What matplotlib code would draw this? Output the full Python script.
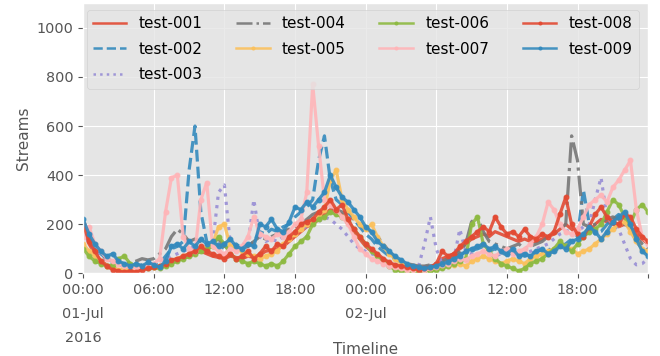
import matplotlib
matplotlib.use('Agg')
import matplotlib.pyplot as plt
import pandas as pd
plt.style.use('ggplot')

# half-hourly readings, 01-Jul-2016 00:00 .. 03-Jul-2016 00:00
test_001 = [190, 120, 80, 50, 35, 20, 15, 10, 10, 10, 15, 20, 20, 25, 35, 45, 55, 60, 70, 80, 90, 80, 70, 65,
            60, 70, 65, 60, 70, 65, 75, 90, 95, 100, 110, 130, 150, 170, 190, 200, 220, 240, 260, 250, 240, 200, 170, 140,
            110, 90, 70, 55, 40, 30, 25, 20, 15, 15, 20, 25, 35, 60, 70, 80, 100, 120, 140, 150, 160, 150, 170, 160,
            150, 140, 130, 140, 130, 130, 140, 150, 160, 180, 200, 180, 160, 150, 170, 200, 220, 210, 200, 190, 200, 190, 160, 140,
            120]
test_002 = [200, 140, 100, 80, 60, 50, 40, 35, 30, 30, 35, 40, 30, 40, 70, 100, 110, 130, 420, 600, 250, 130, 110, 120,
            100, 110, 120, 100, 110, 130, 170, 160, 180, 170, 190, 200, 230, 250, 270, 300, 460, 560, 380, 300, 280, 250, 220, 190,
            160, 140, 110, 90, 70, 60, 45, 35, 30, 25, 25, 30, 35, 45, 55, 60, 80, 85, 95, 100, 110, 90, 100, 85,
            75, 90, 80, 70, 80, 90, 95, 100, 85, 110, 120, 140, 150, 340, 200, 160, 170, 200, 220, 240, 210, 180, 130, 100,
            80]
test_003 = [170, 130, 90, 70, 50, 45, 35, 30, 25, 30, 30, 35, 40, 50, 60, 70, 80, 90, 100, 110, 100, 110, 120, 330,
            360, 120, 110, 100, 120, 300, 150, 130, 140, 130, 150, 160, 170, 180, 190, 200, 210, 230, 220, 200, 180, 150, 120, 100,
            90, 80, 70, 55, 45, 35, 30, 25, 20, 30, 120, 230, 100, 40, 50, 60, 180, 90, 80, 60, 90, 80, 70, 80,
            90, 80, 75, 85, 90, 100, 110, 120, 140, 160, 170, 180, 170, 190, 200, 300, 390, 230, 200, 180, 120, 60, 35, 40,
            60]
test_004 = [180, 150, 110, 80, 60, 50, 40, 40, 45, 50, 60, 55, 60, 80, 100, 150, 180, 160, 130, 140, 130, 120, 130, 140,
            110, 100, 110, 120, 110, 130, 150, 140, 150, 160, 170, 180, 190, 200, 220, 240, 250, 270, 280, 260, 250, 240, 220, 200,
            180, 170, 150, 120, 90, 60, 50, 40, 35, 30, 30, 35, 40, 50, 60, 70, 90, 120, 210, 230, 170, 130, 120, 110,
            100, 110, 120, 100, 110, 120, 130, 150, 160, 180, 200, 560, 460, 200, 190, 200, 210, 220, 230, 220, 200, 180, 150, 120,
            100]
test_005 = [120, 90, 70, 50, 30, 20, 15, 20, 15, 20, 25, 30, 25, 30, 40, 50, 60, 70, 80, 90, 100, 110, 120, 190,
            200, 110, 100, 90, 80, 70, 60, 70, 80, 90, 120, 140, 160, 180, 200, 210, 230, 260, 380, 420, 300, 260, 230, 200,
            180, 200, 150, 110, 80, 60, 40, 30, 20, 15, 10, 15, 20, 25, 30, 35, 40, 30, 50, 60, 70, 60, 50, 40,
            50, 60, 50, 40, 60, 70, 80, 90, 100, 120, 110, 100, 80, 90, 100, 120, 140, 160, 180, 200, 210, 170, 130, 100,
            90]
test_006 = [100, 70, 50, 40, 30, 35, 60, 70, 40, 30, 25, 20, 25, 20, 30, 40, 50, 60, 70, 80, 90, 100, 110, 150,
            120, 80, 60, 50, 40, 50, 40, 30, 40, 30, 50, 80, 110, 130, 150, 200, 220, 230, 250, 240, 230, 210, 180, 150,
            120, 90, 70, 50, 30, 15, 10, 10, 5, 10, 15, 10, 15, 20, 30, 40, 50, 60, 200, 230, 120, 90, 60, 40,
            30, 20, 10, 20, 40, 50, 60, 80, 100, 130, 110, 90, 120, 150, 170, 180, 200, 250, 300, 280, 230, 200, 260, 280,
            250]
test_007 = [150, 190, 120, 90, 60, 50, 40, 30, 25, 20, 25, 30, 40, 60, 250, 390, 400, 150, 100, 90, 300, 370, 110, 90,
            80, 100, 90, 110, 150, 230, 160, 150, 140, 160, 150, 170, 200, 220, 330, 770, 520, 300, 280, 260, 230, 200, 150, 100,
            80, 60, 50, 40, 30, 25, 20, 15, 15, 20, 15, 20, 25, 35, 40, 50, 60, 55, 70, 80, 90, 80, 70, 90,
            100, 80, 90, 100, 120, 150, 200, 290, 260, 200, 170, 160, 180, 230, 280, 300, 320, 290, 350, 380, 420, 460, 260, 150,
            120]
test_008 = [200, 130, 90, 50, 30, 15, 10, 5, 10, 5, 15, 20, 25, 30, 40, 55, 60, 70, 80, 90, 110, 90, 80, 70,
            60, 80, 60, 70, 90, 60, 80, 110, 90, 120, 110, 150, 170, 200, 210, 220, 250, 270, 300, 260, 280, 220, 180, 150,
            120, 100, 80, 60, 45, 35, 30, 25, 20, 15, 20, 25, 40, 90, 70, 80, 110, 130, 150, 170, 190, 170, 230, 190,
            160, 170, 150, 180, 150, 140, 160, 150, 170, 240, 310, 200, 160, 150, 190, 240, 270, 230, 210, 200, 240, 230, 180, 150,
            130]
test_009 = [220, 160, 120, 90, 70, 80, 50, 40, 30, 40, 30, 45, 35, 25, 50, 110, 120, 100, 130, 110, 140, 120, 130, 110,
            120, 140, 110, 100, 120, 110, 200, 190, 220, 180, 170, 210, 270, 260, 290, 270, 300, 330, 400, 350, 310, 290, 260, 230,
            190, 170, 130, 110, 90, 70, 55, 40, 30, 25, 20, 25, 30, 40, 45, 60, 70, 90, 100, 110, 120, 100, 110, 90,
            80, 100, 70, 80, 70, 90, 100, 80, 90, 110, 100, 130, 140, 160, 190, 170, 140, 170, 210, 230, 250, 200, 140, 90,
            70]

series_names = ['test-001', 'test-002', 'test-003', 'test-004', 'test-005',
                'test-006', 'test-007', 'test-008', 'test-009']
tick_labels = ['00:00\n01-Jul\n2016', '06:00', '12:00', '18:00',
               '00:00\n02-Jul', '06:00', '12:00', '18:00', '']


def main():
    times = pd.date_range('2016-07-01 00:00', periods=len(test_001), freq='30min')
    all_series = [test_001, test_002, test_003, test_004, test_005,
                  test_006, test_007, test_008, test_009]
    styles = ['-', '--', ':', '-.', '.-', '.-', '.-', '.-', '.-']

    fig, ax = plt.subplots(figsize=(6.6, 3.56), dpi=100)
    fig.subplots_adjust(left=0.126, right=0.982, top=0.991, bottom=0.232)

    for name, values, style in zip(series_names, all_series, styles):
        ax.plot(times, values, style, label=name, lw=2.3, ms=6.5, alpha=0.9)

    ax.set_xlim(times[0], times[0] + pd.Timedelta(minutes=47 * 60 + 55))
    ax.set_ylim(0, 1100)
    ax.set_yticks(range(0, 1001, 200))
    tick_pos = pd.date_range('2016-07-01 00:00', periods=len(tick_labels), freq='6h')
    ax.set_xticks(tick_pos)
    ax.set_xticklabels(tick_labels, linespacing=1.9)
    ax.tick_params(labelsize=10.4)
    ax.set_xlabel('Timeline', fontsize=11)
    ax.xaxis.set_label_coords(0.5, -0.255)
    ax.set_ylabel('Streams', fontsize=11)
    leg = ax.legend(ncol=4, loc='upper left', bbox_to_anchor=(0.006, 0.975),
                    fontsize=11, borderaxespad=0,
                    labelspacing=0.7, handlelength=2.2, columnspacing=2.2,
                    markerscale=0.6)
    for line in leg.get_lines():
        line.set_linewidth(1.8)

    fig.savefig('out.png', dpi=100)


if __name__ == '__main__':
    main()
